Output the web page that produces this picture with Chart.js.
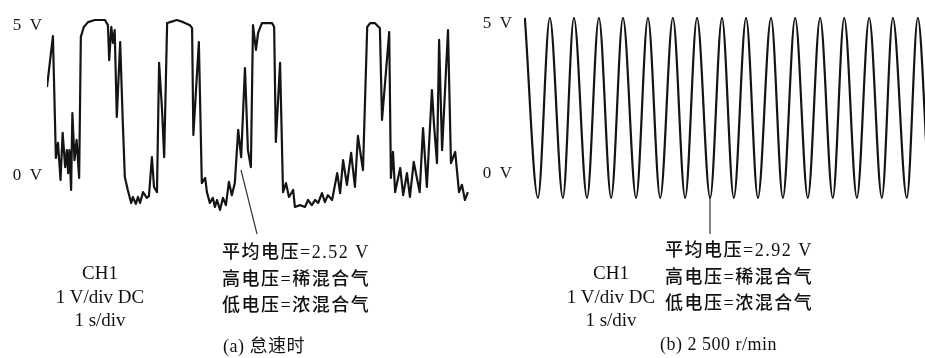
<!DOCTYPE html>
<html>
<head>
<meta charset="utf-8">
<script src="https://cdn.jsdelivr.net/npm/chart.js@4.4.1/dist/chart.umd.min.js"></script>
<style>
  html, body { margin: 0; padding: 0; background: #fff; }
  #wrap { position: relative; width: 925px; height: 358px; overflow: hidden; background: #fff; }
  canvas { position: absolute; top: 0; }
  .txt {
    position: absolute;
    font-family: 'Liberation Serif', 'Noto Sans CJK SC', serif;
    font-size: 18px;
    color: #111;
    white-space: nowrap;
    line-height: 1;
  }
  .ch { text-align: center; font-size: 19px; }
  .ch div { height: 23.5px; }
  .note { font-weight: 500; }
  .note div { height: 26.5px; letter-spacing: 1.5px; }
  svg { position: absolute; left: 0; top: 0; }
</style>
</head>
<body>
<div id="wrap">
  <canvas id="leftChart" width="480" height="230" style="left:0"></canvas>
  <canvas id="rightChart" width="487" height="230" style="left:460px"></canvas>
  <svg width="925" height="358">
    <line x1="241" y1="170" x2="257" y2="234" stroke="#333" stroke-width="1.2" />
    <line x1="710" y1="198" x2="710" y2="234" stroke="#333" stroke-width="1.2" />
  </svg>
  <div class="txt ch" style="left:40px; top:263px; width:120px">
    <div>CH1</div><div>1 V/div DC</div><div>1 s/div</div>
  </div>
  <div class="txt note" style="left:222px; top:243px">
    <div>平均电压=2.52 V</div><div>高电压=稀混合气</div><div>低电压=浓混合气</div>
  </div>
  <div class="txt" style="left:223px; top:337px; letter-spacing:0.5px">(a) 怠速时</div>
  <div class="txt ch" style="left:551px; top:263px; width:120px">
    <div>CH1</div><div>1 V/div DC</div><div>1 s/div</div>
  </div>
  <div class="txt note" style="left:665px; top:241px">
    <div>平均电压=2.92 V</div><div>高电压=稀混合气</div><div>低电压=浓混合气</div>
  </div>
  <div class="txt" style="left:660px; top:335px; letter-spacing:0.5px">(b) 2 500 r/min</div>
</div>
<script>
// idle trace (a): time in s, voltage in V
const leftTime = [
  0.00, 0.14, 0.21, 0.26, 0.32, 0.37, 0.43, 0.47, 0.50, 0.53, 0.57, 0.60, 0.65, 0.70, 0.76,
  0.80, 0.87, 0.97, 1.13, 1.37, 1.44, 1.47, 1.52, 1.56, 1.60, 1.65, 1.73, 1.79, 1.84, 1.91,
  1.99, 2.03, 2.10, 2.15, 2.20, 2.27, 2.36, 2.41, 2.48, 2.53, 2.60, 2.65, 2.72, 2.77, 2.84,
  2.91, 3.07, 3.22, 3.38, 3.43, 3.46, 3.59, 3.66, 3.74, 3.78, 3.85, 3.92, 3.97, 4.02, 4.09,
  4.16, 4.23, 4.30, 4.37, 4.44, 4.52, 4.59, 4.68, 4.75, 4.82, 4.87, 4.94, 4.99, 5.08, 5.32,
  5.37, 5.41, 5.51, 5.58, 5.65, 5.72, 5.82, 5.86, 5.98, 6.10, 6.17, 6.26, 6.34, 6.41, 6.50,
  6.57, 6.64, 6.74, 6.86, 6.93, 7.00, 7.09, 7.19, 7.28, 7.35, 7.47, 7.57, 7.64, 7.75, 7.87,
  7.92, 8.09, 8.13, 8.18, 8.23, 8.35, 8.42, 8.51, 8.58, 8.67, 8.81, 8.89, 8.98, 9.10, 9.15,
  9.22, 9.27, 9.34, 9.48, 9.55, 9.65, 9.74, 9.81, 9.88, 9.95
];
const leftVolt = [
  2.88, 4.57, 0.53, 1.03, -0.20, 1.36, 0.23, 0.79, 0.03, 0.79, -0.53, 2.02, 0.46, 1.13, -0.13,
  4.54, 4.87, 5.03, 5.10, 5.10, 4.93, 3.77, 4.87, 4.34, 4.77, 1.89, 4.37, 1.79, -0.10, -0.53,
  -0.96, -0.76, -0.99, -0.76, -0.96, -0.60, -0.79, -0.73, 0.56, -0.43, -0.60, 3.68, 2.12, 0.56, 5.00,
  5.03, 5.10, 5.03, 4.93, 4.83, 1.29, 4.37, -0.30, -0.13, -0.60, -0.96, -0.79, -1.09, -0.86, -1.19,
  -0.79, -1.03, -0.26, -0.70, -0.30, 1.46, 0.56, 3.51, 0.79, 0.23, 4.93, 4.11, 4.67, 5.00, 5.00,
  4.87, 1.06, 3.68, -0.60, -0.30, -0.76, -0.53, -1.09, -1.03, -1.09, -0.86, -1.03, -0.86, -0.96, -0.63,
  -0.93, -0.70, -0.86, 0.03, -0.63, 0.46, -0.36, 0.70, -0.43, 1.26, 0.13, 4.87, 5.00, 5.00, 4.83,
  1.79, 4.70, -0.13, 0.73, -0.60, 0.20, -0.70, 0.03, -0.76, 0.40, -0.60, 1.52, -0.43, 2.78, 1.62,
  0.36, 4.44, 0.79, 4.77, 0.36, 0.73, -0.60, -0.36, -0.86, -0.60
];

// 2500 r/min trace (b): peaks and troughs only, smoothed between them
const rightTime = [
  0.02, 0.33, 0.61, 0.92, 1.18, 1.49, 1.77, 2.06, 2.34, 2.65, 2.93, 3.22, 3.52, 3.81, 4.09, 4.40,
  4.68, 4.96, 5.25, 5.53, 5.84, 6.12, 6.41, 6.71, 7.00, 7.30, 7.57, 7.87, 8.16, 8.46, 8.72, 9.05,
  9.31, 9.62, 9.89
];
const rightVolt = [
  5.17, -0.79, 5.17, -0.79, 5.17, -0.79, 5.17, -0.79, 5.17, -0.79, 5.17, -0.79, 5.17, -0.79, 5.17, -0.79,
  5.17, -0.79, 5.17, -0.79, 5.17, -0.79, 5.17, -0.79, 5.17, -0.79, 5.17, -0.79, 5.17, -0.79, 5.17, -0.79,
  5.17, -0.79, 5.17
];

const voltTicks = [0, 5];

function toPoints(ts, vs) {
  return ts.map((t, i) => ({ x: t, y: vs[i] }));
}

function makeScope(id, ts, vs, axisWidth, tickPad, labelShift, smooth) {
  const ctx = document.getElementById(id).getContext('2d');
  return new Chart(ctx, {
    type: 'line',
    data: {
      datasets: [
        {
          data: toPoints(ts, vs),
          borderColor: '#141414',
          borderWidth: 2.2,
          borderJoinStyle: 'round',
          pointRadius: 0,
          tension: 0,
          cubicInterpolationMode: smooth ? 'monotone' : 'default',
          fill: false,
        },
      ],
    },
    options: {
      responsive: false,
      animation: false,
      devicePixelRatio: 1,
      layout: { padding: { top: 17, bottom: 10.7, left: 0, right: smooth ? 0 : 10 } },
      scales: {
        x: { type: 'linear', min: 0, max: 10, display: false },
        y: {
          min: -1.5,
          max: 5.2,
          afterFit: (s) => {
            s.width = axisWidth;
            s.paddingTop = 0;
            s.paddingBottom = 0;
          },
          afterBuildTicks: (s) => { s.ticks = voltTicks.map((v) => ({ value: v })); },
          grid: { display: false, drawTicks: false },
          border: { display: false },
          ticks: {
            padding: tickPad,
            labelOffset: labelShift,
            color: '#1a1a1a',
            font: { family: 'Liberation Serif', size: 17 },
            callback: (v) => v + '\u2002V',
          },
        },
      },
      plugins: { legend: { display: false }, tooltip: { enabled: false } },
    },
  });
}

makeScope('leftChart', leftTime, leftVolt, 47, 5, 2, false);
makeScope('rightChart', rightTime, rightVolt, 64, 12, 0, true);
</script>
</body>
</html>
